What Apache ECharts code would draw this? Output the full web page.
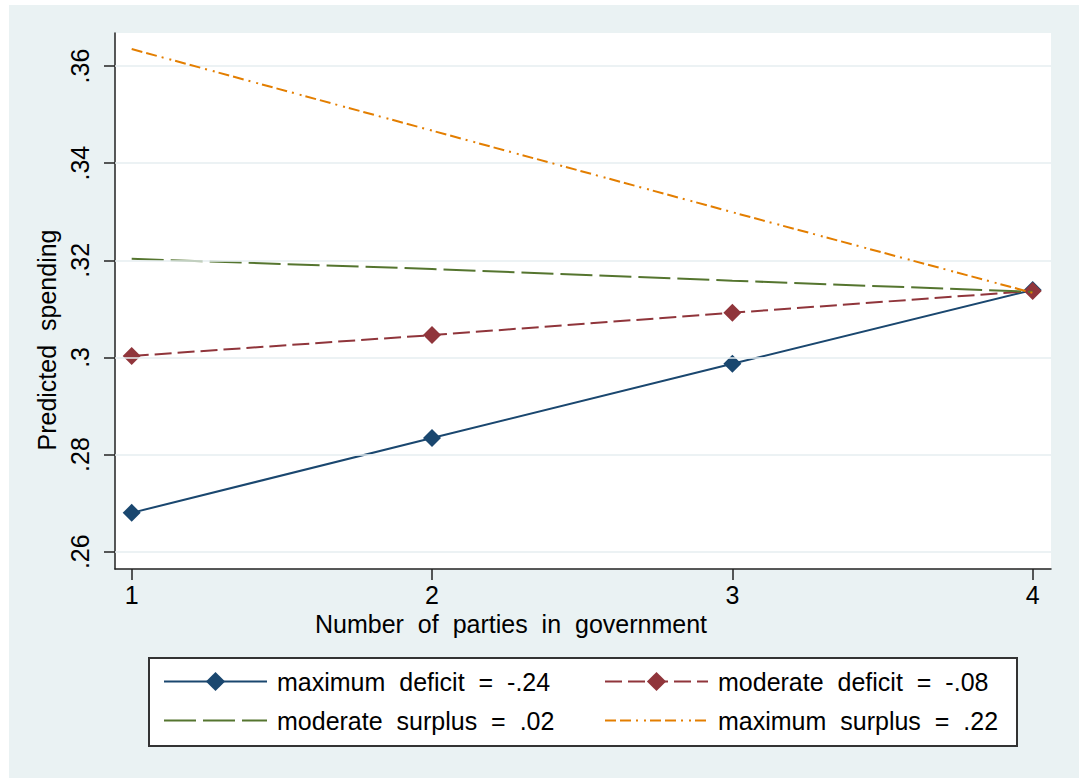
<!DOCTYPE html>
<html><head><meta charset="utf-8">
<script src="https://cdn.jsdelivr.net/npm/echarts@6/dist/echarts.min.js"></script>
<style>
html,body{margin:0;padding:0;background:#fff;width:1079px;height:778px;overflow:hidden;}
#c{position:absolute;left:9px;top:5px;width:1070px;height:773px;background:#eaf2f3;word-spacing:7px;}
</style>
</head><body><div id="c"></div>
<script>
const parties = [1, 2, 3, 4];
const maxDeficit = [0.2680, 0.2834, 0.2987, 0.3139];
const modDeficit = [0.3003, 0.3046, 0.3092, 0.3137];
const modSurplus = [0.3203, 0.3182, 0.3158, 0.3135];
const maxSurplus = [0.3635, 0.3467, 0.3299, 0.3133];
const yTicks = [0.26, 0.28, 0.30, 0.32, 0.34, 0.36];
const yTickLabels = ['.26', '.28', '.3', '.32', '.34', '.36'];
const xTicks = [1, 2, 3, 4];
const seriesNames = ['maximum deficit = -.24', 'moderate deficit = -.08', 'moderate surplus = .02', 'maximum surplus = .22'];
const xTitle = 'Number of parties in government';
const yTitle = 'Predicted spending';

const AX = '#222';
const FONT = 'Liberation Sans';
const FS = 25;
const toPts = vals => parties.map((x, i) => [x, vals[i]]);

const chart = echarts.init(document.getElementById('c'), null, {renderer: 'svg', width: 1070, height: 773});
chart.setOption({
  animation: false,
  backgroundColor: 'transparent',
  textStyle: {fontFamily: FONT, color: '#000'},
  grid: {left: 106, top: 28, right: 28, bottom: 209, show: true, backgroundColor: '#fff', borderWidth: 0},
  graphic: [{
    type: 'rect', left: 139, top: 652, z: 0,
    shape: {width: 868, height: 88},
    style: {fill: '#fff', stroke: '#333', lineWidth: 2}
  }],
  xAxis: {
    type: 'value', min: 0.9444, max: 4.061,
    axisLine: {show: true, lineStyle: {color: AX, width: 1.5}},
    axisTick: {show: true, length: 11, customValues: xTicks, lineStyle: {color: AX, width: 1.5}},
    axisLabel: {customValues: xTicks, fontSize: FS, color: '#000', margin: 13, fontFamily: FONT},
    splitLine: {show: false},
    name: xTitle, nameLocation: 'middle', nameGap: 42,
    nameTextStyle: {fontSize: FS, color: '#000', fontFamily: FONT, padding: [0, 144, 0, 0]}
  },
  yAxis: {
    type: 'value', min: 0.25644, max: 0.3668,
    axisLine: {show: true, lineStyle: {color: AX, width: 1.5}},
    axisTick: {show: true, length: 11, customValues: yTicks, lineStyle: {color: AX, width: 1.5}},
    axisLabel: {
      customValues: yTicks, rotate: 90, fontSize: FS, color: '#000', margin: 23, fontFamily: FONT,
      formatter: v => { const i = yTicks.findIndex(t => Math.abs(t - v) < 1e-6); return i >= 0 ? yTickLabels[i] : ''; }
    },
    splitLine: {show: false},
    name: yTitle, nameLocation: 'middle', nameGap: 45,
    nameTextStyle: {fontSize: FS, color: '#000', fontFamily: FONT, padding: [0, 78, 0, 0]}
  },
  legend: [{
    orient: 'vertical', left: 149, top: 659, itemWidth: 103, itemHeight: 24, itemGap: 14,
    data: [seriesNames[0], {name: seriesNames[2], itemStyle: {opacity: 0}}],
    textStyle: {fontSize: FS, color: '#000', fontFamily: FONT, padding: [0, 0, 0, 5]}
  }, {
    orient: 'vertical', left: 590, top: 659, itemWidth: 103, itemHeight: 24, itemGap: 14,
    data: [seriesNames[1], {name: seriesNames[3], itemStyle: {opacity: 0}}],
    textStyle: {fontSize: FS, color: '#000', fontFamily: FONT, padding: [0, 0, 0, 5]}
  }],
  series: [
    {
      name: 'grid', type: 'line', data: [], z: 1, silent: true,
      markLine: {
        symbol: 'none', silent: true, animation: false, label: {show: false},
        lineStyle: {color: '#e6eef0', width: 1.5, type: 'solid'},
        data: yTicks.map(v => ({yAxis: v}))
      }
    },
    {
      name: seriesNames[0], type: 'line', data: toPts(maxDeficit), z: 2,
      symbol: 'diamond', symbolSize: 18, showSymbol: true,
      lineStyle: {color: '#1a476f', width: 2, type: 'solid'},
      itemStyle: {color: '#1a476f'}
    },
    {
      name: seriesNames[1], type: 'line', data: toPts(modDeficit), z: 3,
      symbol: 'diamond', symbolSize: 18, showSymbol: true,
      lineStyle: {color: '#90353b', width: 2, type: [17, 6]},
      itemStyle: {color: '#90353b'}
    },
    {
      name: seriesNames[2], type: 'line', data: toPts(modSurplus), z: 4,
      symbol: 'none',
      lineStyle: {color: '#55752f', width: 2, type: [32, 7]},
      itemStyle: {color: '#55752f'}
    },
    {
      name: seriesNames[3], type: 'line', data: toPts(maxSurplus), z: 5,
      symbol: 'none',
      lineStyle: {color: '#e37e00', width: 2, type: [11, 4, 11, 5, 2, 6, 2, 4]},
      itemStyle: {color: '#e37e00'}
    }
  ]
});
</script>
</body></html>
